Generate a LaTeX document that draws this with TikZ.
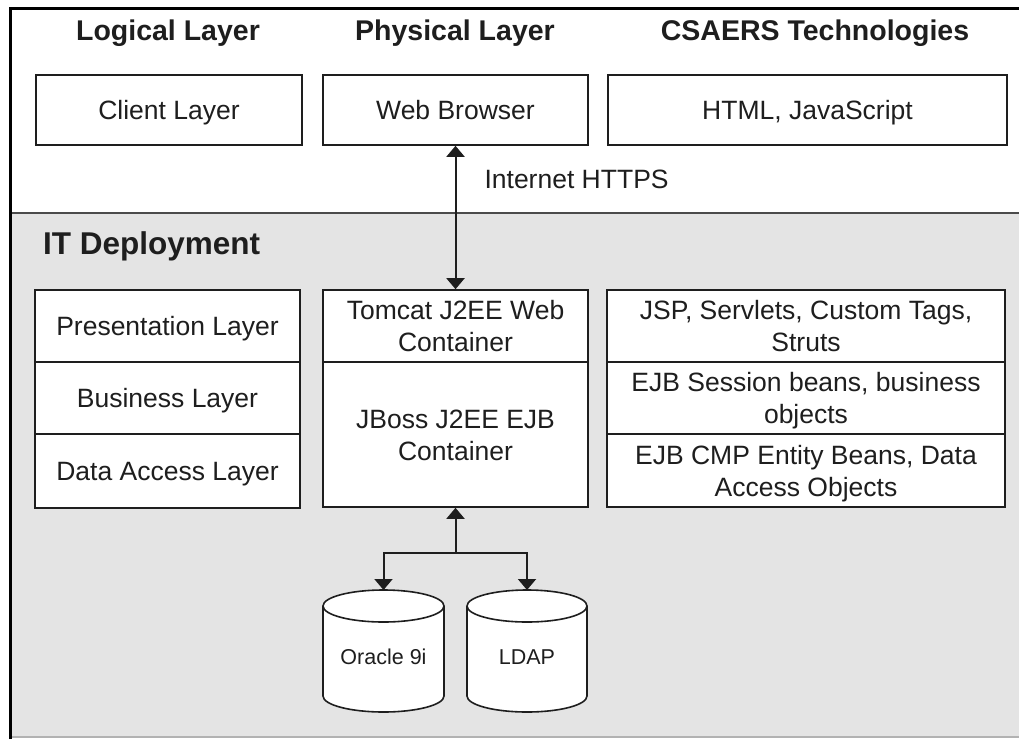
\documentclass[tikz,border=0pt]{standalone}
\usepackage{fontspec}
\setmainfont{Liberation Sans}
\usetikzlibrary{arrows.meta}
\definecolor{bggray}{HTML}{E4E4E4}
\definecolor{ink}{HTML}{1E1E1E}
\newcommand{\mystrut}{\rule[-6pt]{0pt}{31pt}}
\begin{document}
\begin{tikzpicture}[x=1pt,y=-1pt,
  box/.style={draw=ink, line width=1.6pt, fill=white, inner sep=0pt, align=center,
    font=\fontsize{26.5}{32}\selectfont, text=ink},
  head/.style={font=\fontsize{28.5}{34}\selectfont\bfseries, text=ink},
  link/.style={draw=ink, line width=2pt},
  tip/.style={-{Triangle[width=18pt,length=11pt]}},
  dbtext/.style={font=\fontsize{21.5}{26}\selectfont, text=ink},
  db/.style={draw=ink, line width=1.6pt, fill=white}]
\useasboundingbox (0,0) rectangle (1019,739);
\fill[white] (0,0) rectangle (1019,739);
\fill[bggray] (10,213) rectangle (1019,737);
\draw[color=gray!60, line width=2pt] (10,737) -- (1019,737);
\draw[color=ink!80, line width=2pt] (10,213) -- (1019,213);
\draw[black, line width=3pt] (10,739) -- (10,8.5) -- (1019,8.5);

% headings
\node[head] (hlog) at (168,33) {Logical Layer};
\node[head] (hphy) at (455,33) {Physical Layer};
\node[head] (htec) at (815,33) {CSAERS Technologies};

% top boxes
\node[box, minimum width=266pt, minimum height=70pt] (client) at (169,110) {\mystrut Client Layer};
\node[box, minimum width=265pt, minimum height=70pt] (web) at (455.5,110) {\mystrut Web Browser};
\node[box, minimum width=399pt, minimum height=70pt] (html) at (807.5,110) {\mystrut HTML, JavaScript};

\node[anchor=west, font=\fontsize{26.5}{32}\selectfont, text=ink] (https) at (481,179) {Internet HTTPS};
\node[font=\fontsize{31.5}{36}\selectfont\bfseries, text=ink, anchor=base west, inner sep=0pt] (itdep) at (43,254) {IT Deployment};

% left stack
\node[box, minimum width=265pt, minimum height=72pt] (pres) at (167.5,326) {\mystrut Presentation Layer};
\node[box, minimum width=265pt, minimum height=72pt] (bus) at (167.5,398) {\mystrut Business Layer};
\node[box, minimum width=265pt, minimum height=74pt] (dal) at (167.5,471) {\mystrut Data Access Layer};

% middle stack
\node[box, minimum width=265pt, minimum height=72pt] (tomcat) at (455.5,326) {\mystrut Tomcat J2EE Web\\\mystrut Container};
\node[box, minimum width=265pt, minimum height=145pt] (jboss) at (455.5,434.5) {\mystrut JBoss J2EE EJB\\\mystrut Container};

% right stack
\node[box, minimum width=398pt, minimum height=72pt] (jsp) at (806,326) {\mystrut JSP, Servlets, Custom Tags,\\\mystrut Struts};
\node[box, minimum width=398pt, minimum height=72pt] (ejbs) at (806,398) {\mystrut EJB Session beans, business\\\mystrut objects};
\node[box, minimum width=398pt, minimum height=73pt] (ejbc) at (806,470.5) {\mystrut EJB CMP Entity Beans, Data\\\mystrut Access Objects};

% cylinders
\draw[db] (323,606) -- (323,696) arc[start angle=180, end angle=0, x radius=60.5, y radius=16]
  -- (444,606) arc[start angle=0, end angle=-180, x radius=60.5, y radius=16] -- cycle;
\draw[ink, line width=1.6pt] (323,606) arc[start angle=180, end angle=0, x radius=60.5, y radius=16];
\draw[db] (467,606) -- (467,696) arc[start angle=180, end angle=0, x radius=60, y radius=16]
  -- (587,606) arc[start angle=0, end angle=-180, x radius=60, y radius=16] -- cycle;
\draw[ink, line width=1.6pt] (467,606) arc[start angle=180, end angle=0, x radius=60, y radius=16];
\coordinate (oratop) at (383.5,590);
\coordinate (ldaptop) at (527,590);
\node[dbtext] (ora) at (383.5,657) {Oracle 9i};
\node[dbtext] (ldap) at (527,657) {LDAP};

% connectors
\draw[link, {Triangle[width=18pt,length=11pt]}-{Triangle[width=18pt,length=11pt]}] (web.south) -- (tomcat.north);
\coordinate (junc) at (455.5,553);
\draw[link, tip] (junc) -- (jboss.south);
\draw[link, tip] (junc) -| (oratop);
\draw[link, tip] (junc) -| (ldaptop);
\end{tikzpicture}
\end{document}
